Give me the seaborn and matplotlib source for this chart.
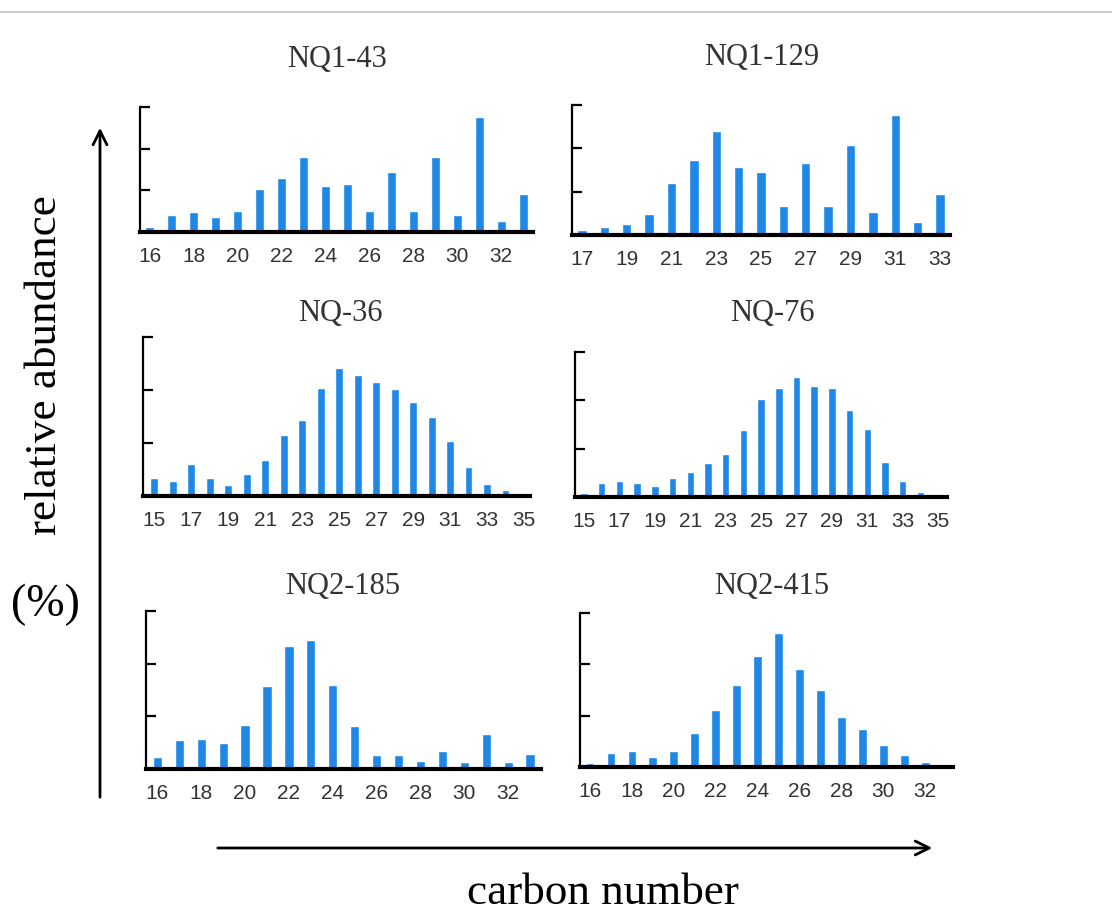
import numpy as np
import pandas as pd
import seaborn as sns
import matplotlib.pyplot as plt

# relative abundance per carbon number (units = y tick spacing)
c_nq1_43 = list(range(16, 34))
v_nq1_43 = [0.13, 0.40, 0.48, 0.37, 0.50, 1.04, 1.30, 1.79, 1.10, 1.15,
            0.50, 1.43, 0.50, 1.79, 0.40, 2.75, 0.27, 0.91]

c_nq1_129 = list(range(17, 34))
v_nq1_129 = [0.12, 0.19, 0.25, 0.49, 1.21, 1.72, 2.40, 1.58, 1.45, 0.66,
             1.65, 0.66, 2.07, 0.52, 2.76, 0.29, 0.94]

c_nq_36 = list(range(15, 36))
v_nq_36 = [0.34, 0.29, 0.60, 0.34, 0.20, 0.41, 0.68, 1.15, 1.44, 2.04, 2.42,
           2.28, 2.16, 2.02, 1.78, 1.49, 1.03, 0.54, 0.23, 0.11, 0.03]

c_nq_76 = list(range(15, 36))
v_nq_76 = [0.08, 0.28, 0.34, 0.30, 0.23, 0.39, 0.52, 0.70, 0.88, 1.39, 2.02,
           2.26, 2.49, 2.29, 2.25, 1.81, 1.41, 0.72, 0.34, 0.10, 0.06]

c_nq2_185 = list(range(16, 34))
v_nq2_185 = [0.23, 0.55, 0.57, 0.49, 0.83, 1.58, 2.33, 2.45, 1.60, 0.81,
             0.27, 0.27, 0.16, 0.35, 0.14, 0.67, 0.13, 0.29]

c_nq2_415 = list(range(16, 34))
v_nq2_415 = [0.08, 0.27, 0.31, 0.20, 0.32, 0.66, 1.12, 1.60, 2.16, 2.62,
             1.90, 1.50, 0.98, 0.75, 0.42, 0.23, 0.10, 0.04]

panels = [
    ("NQ1-43", c_nq1_43, v_nq1_43, list(range(16, 33, 2))),
    ("NQ1-129", c_nq1_129, v_nq1_129, list(range(17, 34, 2))),
    ("NQ-36", c_nq_36, v_nq_36, list(range(15, 36, 2))),
    ("NQ-76", c_nq_76, v_nq_76, list(range(15, 36, 2))),
    ("NQ2-185", c_nq2_185, v_nq2_185, list(range(16, 33, 2))),
    ("NQ2-415", c_nq2_415, v_nq2_415, list(range(16, 33, 2))),
]

# layout in pixels: (left, top, right, bottom), xlim, title centre
boxes = [
    ((140, 107, 533, 232), (15.55, 33.45), (337, 60)),
    ((572, 105, 950, 235), (16.55, 33.45), (762, 57)),
    ((143, 337, 530, 496), (14.39, 35.32), (340, 313)),
    ((575, 352, 947, 497), (14.49, 35.50), (772, 313)),
    ((146, 611, 541, 769), (15.48, 33.50), (343, 586)),
    ((580, 613, 953, 767), (15.52, 33.33), (772, 586)),
]

sns.set_theme(style="white")
plt.rcParams["font.family"] = ["Liberation Sans", "DejaVu Sans"]

W, H = 1112, 913
fig = plt.figure(figsize=(W / 100, H / 100), dpi=100)
bar_color = "#1f88e6"

for (name, carb, vals, xt), (box, xlim, tpos) in zip(panels, boxes):
    l, t, r, b = box
    ax = fig.add_axes([l / W, 1 - b / H, (r - l) / W, (b - t) / H])
    df = pd.DataFrame({"carbon": carb, "abundance": vals})
    sns.barplot(data=df, x="carbon", y="abundance", native_scale=True,
                width=0.42, color=bar_color, saturation=1, ax=ax)
    ax.set_xlim(*xlim)
    ax.set_ylim(0, 3)
    ax.set_yticks([0, 1, 2, 3])
    ax.set_yticklabels([])
    ax.set_xticks(xt)
    ax.set_xticklabels([str(x) for x in xt], fontsize=15, color="#333333")
    ax.tick_params(axis="y", direction="in", length=7, width=1.6, color="black", left=True)
    ax.tick_params(axis="x", length=0, pad=11)
    ax.set_xlabel("")
    ax.set_ylabel("")
    sns.despine(ax=ax)
    ax.spines["left"].set_color("black")
    ax.spines["left"].set_linewidth(1.6)
    ax.spines["bottom"].set_color("black")
    ax.spines["bottom"].set_linewidth(3)
    fig.text(tpos[0] / W, 1 - tpos[1] / H, name, ha="center", va="center",
             fontsize=22, color="#333333", family="Liberation Serif")

# axis captions and arrows
fig.text(45 / W, 1 - 365 / H, "relative abundance", rotation=90, ha="center",
         va="center", fontsize=32.5, family="Liberation Serif", color="black")
fig.text(45 / W, 1 - 605 / H, "(%)", ha="center", va="center", fontsize=33,
         family="Liberation Serif", color="black")
fig.text(603 / W, 1 - 893 / H, "carbon number", ha="center", va="center",
         fontsize=32.5, family="Liberation Serif", color="black")

arrow = dict(arrowstyle="->", lw=2, color="black", mutation_scale=25)
fig.add_artist(plt.Annotation("", xy=(100 / W, 1 - 125 / H), xytext=(100 / W, 1 - 800 / H),
                              xycoords="figure fraction", arrowprops=arrow))
fig.add_artist(plt.Annotation("", xy=(935 / W, 1 - 848 / H), xytext=(215 / W, 1 - 848 / H),
                              xycoords="figure fraction", arrowprops=arrow))

# thin gray rule at the very top
fig.add_artist(plt.Line2D([0, 1], [1 - 12 / H, 1 - 12 / H], color="#cccccc", lw=1.5,
                          transform=fig.transFigure))

fig.savefig("out.png", dpi=100)
